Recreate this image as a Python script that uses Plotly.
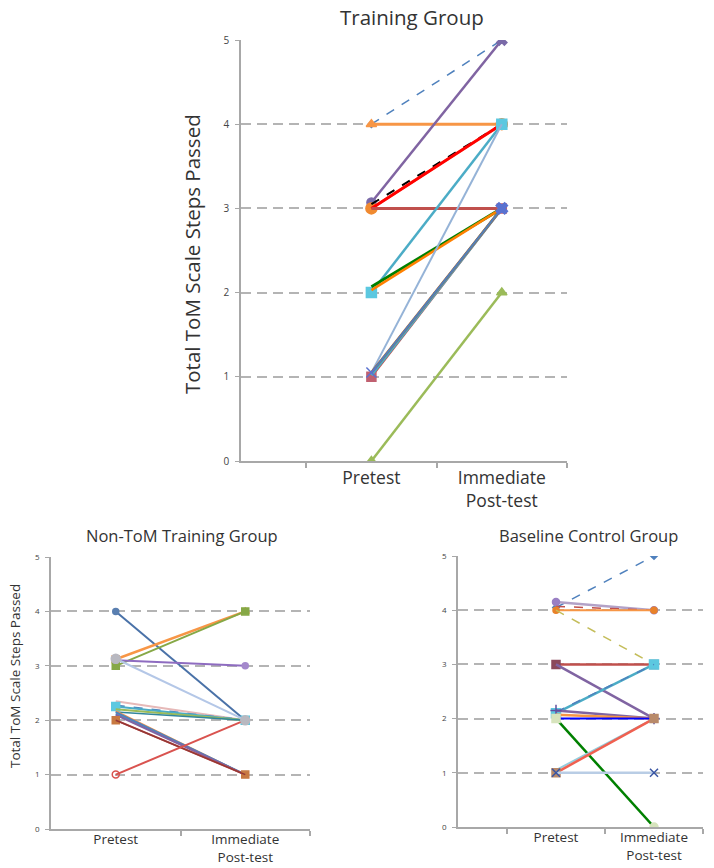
import plotly.graph_objects as go

# ---------------- data ----------------
phases = ["Pretest", "Immediate<br>Post-test"]
phase_pos = [1, 2]
y_ticks = [0, 1, 2, 3, 4, 5]

# Training Group (pretest, post-test) per child
train_pre = [4.0, 4.0, 3.07, 3.0, 3.05, 3.0, 3.0, 2.0, 2.07, 2.03, 1.05, 1.0, 1.02, 1.05, 1.05, 0.0]
train_post = [5.0, 4.0, 5.0, 4.0, 4.0, 4.0, 3.0, 4.0, 3.0, 3.0, 4.0, 3.0, 3.0, 3.0, 3.0, 2.0]

# Non-ToM Training Group
nontom_pre = [4.0, 3.12, 3.0, 3.1, 2.35, 2.27, 2.25, 2.2, 2.15, 2.17, 2.12, 2.15, 2.1, 2.0, 2.0, 1.0, 3.13]
nontom_post = [2.0, 4.0, 4.0, 3.0, 2.0, 2.0, 2.0, 2.0, 2.0, 1.0, 1.0, 1.0, 1.0, 1.0, 1.0, 2.0, 2.0]

# Baseline Control Group
base_pre = [4.05, 4.15, 4.07, 4.0, 4.0, 3.0, 3.0, 2.1, 2.12, 2.15, 2.07, 2.0, 2.0, 1.05, 1.0, 1.0]
base_post = [5.0, 4.0, 4.0, 4.0, 3.0, 3.0, 2.0, 3.0, 3.0, 2.0, 2.0, 2.0, 0.0, 2.0, 2.0, 1.0]

# ---------------- styles ----------------
train_style = [
    ("#4f81bd", "dash", 1.5, ["diamond", "x"], 5, "#4f81bd"),
    ("#f79646", "solid", 3, ["triangle-up", "triangle-up"], 9, "#f79646"),
    ("#8064a2", "solid", 2.5, ["circle", "x"], 9, "#7a6aa8"),
    ("#f79646", "solid", 2.5, ["circle", "circle"], 11, "#f08a30"),
    ("#000000", "dash", 2, ["circle", "circle"], 0, "#000000"),
    ("#ff0000", "solid", 3, ["circle", "circle"], 0, "#ff0000"),
    ("#c0504d", "solid", 3, ["circle", "circle"], 0, "#c0504d"),
    ("#4bacc6", "solid", 2.5, ["square", "square"], 10, "#5cc8e0"),
    ("#008000", "solid", 3, ["circle", "circle"], 0, "#008000"),
    ("#ff8000", "solid", 2.5, ["circle", "circle"], 0, "#ff8000"),
    ("#95b3d7", "solid", 2, ["circle", "circle"], 0, "#95b3d7"),
    ("#c0504d", "solid", 2.5, ["square", "square"], 9, "#c06070"),
    ("#4bacc6", "solid", 3, ["circle", "circle"], 0, "#4bacc6"),
    ("#c55a11", "solid", 2.5, ["circle", "circle"], 0, "#c55a11"),
    ("#4f81bd", "solid", 2, ["x-thin", "x"], 10, "#5a72d0"),
    ("#9bbb59", "solid", 2.5, ["triangle-up", "triangle-up"], 9, "#9bbb59"),
]

nontom_style = [
    ("#4a72a8", "solid", 2, ["circle", "circle"], 6, "#5a7fb0"),
    ("#f79646", "solid", 2.5, ["square", "triangle-up"], 7, "#f79646"),
    ("#86a846", "solid", 2, ["square", "square"], 7, "#86a846"),
    ("#8e6cc0", "solid", 2, ["circle", "circle"], 6, "#a489cc"),
    ("#e6b9b8", "solid", 2, ["x", "x"], 0, "#e6b9b8"),
    ("#4f81bd", "dash", 2, ["circle", "circle"], 0, "#4f81bd"),
    ("#4bacc6", "solid", 2, ["square", "square"], 8, "#5cc8e0"),
    ("#9bbb59", "solid", 2, ["circle", "circle"], 0, "#9bbb59"),
    ("#31859c", "solid", 1.5, ["circle", "circle"], 0, "#31859c"),
    ("#f79646", "solid", 1.5, ["circle", "circle"], 0, "#f79646"),
    ("#4bacc6", "solid", 2, ["circle", "circle"], 0, "#4bacc6"),
    ("#4f81bd", "solid", 2, ["circle", "circle"], 0, "#4f81bd"),
    ("#8064a2", "solid", 2, ["circle", "circle"], 0, "#8064a2"),
    ("#c0504d", "solid", 2, ["square", "square"], 7, "#c87941"),
    ("#953735", "solid", 1.5, ["circle", "circle"], 0, "#953735"),
    ("#d9534f", "solid", 2, ["circle-open", "circle"], 7, "#d9534f"),
    ("#b4c7e7", "solid", 2, ["circle", "circle"], 9, "#b8b8c0"),
]

base_style = [
    ("#4f81bd", "dash", 1.5, ["diamond", "diamond"], 5, "#4f81bd"),
    ("#b3a2c7", "solid", 2.5, ["circle", "circle"], 7, "#9a7fc4"),
    ("#c0504d", "dash", 1.5, ["circle", "circle"], 0, "#c0504d"),
    ("#f79646", "solid", 2, ["circle", "circle"], 6, "#e8822a"),
    ("#c4bd5a", "dash", 1.5, ["circle", "circle"], 0, "#c4bd5a"),
    ("#c0504d", "solid", 2.5, ["square", "square"], 8, "#8b4a5b"),
    ("#8064a2", "solid", 2.5, ["circle", "circle"], 0, "#8064a2"),
    ("#4bacc6", "solid", 2.5, ["square", "square"], 9, "#5cc8e0"),
    ("#4f81bd", "dash", 1.5, ["circle", "circle"], 0, "#4f81bd"),
    ("#8064a2", "solid", 2.5, ["cross-thin", "cross-thin"], 8, "#6050a0"),
    ("#f79646", "solid", 2.5, ["circle", "circle"], 0, "#f79646"),
    ("#0000ff", "solid", 2, ["circle", "circle"], 0, "#0000ff"),
    ("#008000", "solid", 2.5, ["square", "circle"], 8, "#d7e4bd"),
    ("#93cddd", "solid", 2, ["circle", "circle"], 0, "#93cddd"),
    ("#f06050", "solid", 2.5, ["square", "square"], 8, "#b98a6a"),
    ("#b9cde5", "solid", 2.5, ["x-thin", "x-thin"], 8, "#3955a3"),
]

FONT = "Open Sans"
TXT = "#333333"
GRID = "#b4b4b4"
AXL = "#a8a8a8"

fig = go.Figure()


def add_group(pre, post, styles, xa, ya):
    for p, q, (col, dash, w, syms, msize, mcol) in zip(pre, post, styles):
        mode = "lines+markers" if msize > 0 else "lines"
        fig.add_trace(go.Scatter(
            x=phase_pos, y=[p, q], mode=mode,
            line=dict(color=col, dash=dash, width=w),
            marker=dict(symbol=syms, size=msize if msize > 0 else 1, color=mcol,
                        line=dict(width=1.5, color=mcol)),
            xaxis=xa, yaxis=ya, showlegend=False, hoverinfo="skip",
        ))


add_group(train_pre, train_post, train_style, "x", "y")
add_group(nontom_pre, nontom_post, nontom_style, "x2", "y2")
add_group(base_pre, base_post, base_style, "x3", "y3")


def xaxis(domain, rng, anchor, fsize, minor_vals, standoff):
    return dict(domain=domain, range=rng, anchor=anchor, automargin=False,
                tickmode="array", tickvals=phase_pos, ticktext=phases,
                ticks="", showgrid=False, zeroline=False,
                showline=True, linecolor=AXL, linewidth=1.5,
                ticklabelstandoff=standoff,
                tickfont=dict(family=FONT, size=fsize, color=TXT),
                minor=dict(tickmode="array", tickvals=minor_vals, ticks="outside",
                           ticklen=5, tickcolor=AXL, tickwidth=1.5, showgrid=False),
                fixedrange=True)


def yaxis(domain, anchor, fsize):
    return dict(domain=domain, range=[0, 5], anchor=anchor, automargin=False,
                tickmode="array", tickvals=y_ticks,
                showgrid=True, gridcolor=GRID, gridwidth=1.5, griddash="10px,6px",
                zeroline=False, showline=True, linecolor=AXL, linewidth=1.5,
                ticks="outside", ticklen=4, tickcolor=AXL, tickwidth=1,
                ticklabelstandoff=4,
                tickfont=dict(family=FONT, size=fsize, color="#444444"),
                fixedrange=True)


W, H = 714, 868
fig.update_layout(
    width=W, height=H,
    margin=dict(l=0, r=0, t=0, b=0, autoexpand=False),
    paper_bgcolor="white", plot_bgcolor="white",
    xaxis=xaxis([241 / W, 567 / W], [0, 2.5], "y", 17.5, [0.5, 1.5, 2.5], 0),
    yaxis=yaxis([1 - 461 / H, 1 - 40 / H], "x", 10),
    xaxis2=xaxis([51 / W, 310 / W], [0.5, 2.5], "y2", 13.5, [1.5, 2.5], -3),
    yaxis2=yaxis([1 - 829 / H, 1 - 557 / H], "x2", 8),
    xaxis3=xaxis([458 / W, 703 / W], [0, 2.5], "y3", 13.5, [0.5, 1.5, 2.5], -3),
    yaxis3=yaxis([1 - 827 / H, 1 - 556 / H], "x3", 8),
    annotations=[
        dict(text="Training Group", x=412 / W, y=1 - 17 / H, xref="paper", yref="paper",
             showarrow=False, xanchor="center", yanchor="middle",
             font=dict(family=FONT, size=20.5, color=TXT)),
        dict(text="Non-ToM Training Group", x=182 / W, y=1 - 535 / H, xref="paper", yref="paper",
             showarrow=False, xanchor="center", yanchor="middle",
             font=dict(family=FONT, size=16.5, color=TXT)),
        dict(text="Baseline Control Group", x=588 / W, y=1 - 535 / H, xref="paper", yref="paper",
             showarrow=False, xanchor="center", yanchor="middle",
             font=dict(family=FONT, size=16.5, color=TXT)),
        dict(text="Total ToM Scale Steps Passed", x=192 / W, y=1 - 254 / H, xref="paper", yref="paper",
             showarrow=False, xanchor="center", yanchor="middle", textangle=-90,
             font=dict(family=FONT, size=20.5, color=TXT)),
        dict(text="Total ToM Scale Steps Passed", x=15 / W, y=1 - 676 / H, xref="paper", yref="paper",
             showarrow=False, xanchor="center", yanchor="middle", textangle=-90,
             font=dict(family=FONT, size=13.5, color=TXT)),
    ],
)

fig.write_html("out.html", config={"displayModeBar": False},
               post_script="document.body.style.margin='0px';")
